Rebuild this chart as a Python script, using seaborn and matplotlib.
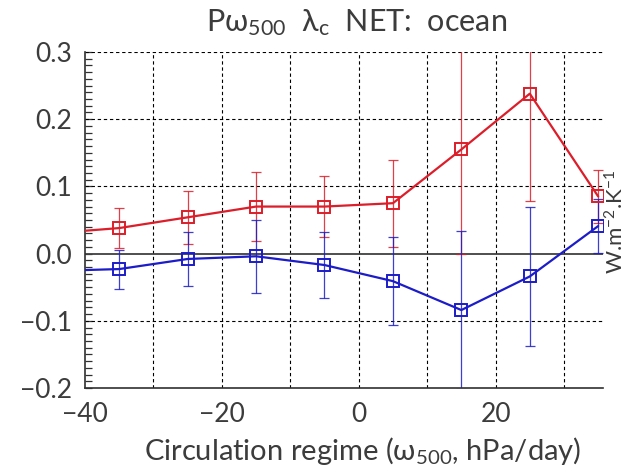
import numpy as np
import pandas as pd
import matplotlib
matplotlib.use("Agg")
import matplotlib.pyplot as plt
from matplotlib.ticker import MultipleLocator
import seaborn as sns

# regime bin centres (omega500, hPa/day)
regimes = [-45, -35, -25, -15, -5, 5, 15, 25, 35]
red_vals = [0.030, 0.038, 0.054, 0.070, 0.070, 0.075, 0.155, 0.238, 0.085]
red_err = [0.030, 0.030, 0.039, 0.051, 0.045, 0.065, 0.155, 0.160, 0.040]
blue_vals = [-0.026, -0.023, -0.008, -0.004, -0.017, -0.041, -0.084, -0.034, 0.041]
blue_err = [0.030, 0.029, 0.040, 0.054, 0.049, 0.065, 0.117, 0.104, 0.040]
x_ticks = [-40, -20, 0, 20]
y_ticks = [-0.2, -0.1, 0.0, 0.1, 0.2, 0.3]

sns.set_style("white")
plt.rcParams['font.family'] = ['Lato', 'DejaVu Sans']
plt.rcParams['font.weight'] = 'normal'
plt.rcParams['mathtext.fontset'] = 'custom'
plt.rcParams['mathtext.rm'] = 'Lato'
plt.rcParams['mathtext.it'] = 'Lato:italic'
TXT = '#3c3c3c'

df = pd.DataFrame({
    'regime': regimes * 2,
    'value': red_vals + blue_vals,
    'err': red_err + blue_err,
    'series': ['red'] * len(regimes) + ['blue'] * len(regimes),
})

fig = plt.figure(figsize=(6.28, 4.76), dpi=100)
ax = fig.add_axes([85 / 628, 1 - 388 / 476, (603 - 85) / 628, (388 - 52) / 476])

colors = {'red': '#dc1e2a', 'blue': '#1c1cc8'}

ax.set_xlim(-40, 35.7)
ax.set_ylim(-0.2, 0.3)
for gx in [-30, -20, -10, 0, 10, 20, 30]:
    ax.axvline(gx, color='black', lw=0.8, ls=(0, (3, 2.5)), zorder=1)
for gy in [-0.1, 0.1, 0.2, 0.3]:
    ax.axhline(gy, color='black', lw=0.8, ls=(0, (3, 2.5)), zorder=1)
ax.axhline(0.0, color='#404040', lw=1.3, zorder=1)

for name in ['red', 'blue']:
    sub = df[df['series'] == name]
    ax.errorbar(sub['regime'], sub['value'], yerr=sub['err'], fmt='none',
                ecolor=colors[name], elinewidth=0.9, capsize=3.5, capthick=0.9,
                zorder=2, alpha=0.85)
    sns.lineplot(data=sub, x='regime', y='value', ax=ax, color=colors[name],
                 lw=1.6, marker='s', markersize=8, markerfacecolor='none',
                 markeredgecolor=colors[name], markeredgewidth=1.4,
                 legend=False, zorder=3)

ax.spines['top'].set_visible(False)
ax.spines['right'].set_visible(False)
ax.spines['left'].set_color('#303030')
ax.spines['bottom'].set_color('#303030')
ax.spines['left'].set_linewidth(1.2)
ax.spines['bottom'].set_linewidth(1.2)

ax.set_xticks(x_ticks)
ax.set_xticklabels([f"{t:d}".replace('-', '\u2212') for t in x_ticks])
ax.set_yticks(y_ticks)
ax.set_yticklabels([f"{t:.1f}".replace('-', '\u2212') for t in y_ticks])
ax.yaxis.set_minor_locator(MultipleLocator(0.01))
ax.tick_params(axis='x', which='both', length=0, pad=10, labelsize=19, labelcolor=TXT)
ax.tick_params(axis='y', which='major', direction='in', length=5, width=0.9,
               pad=9, labelsize=19, labelcolor=TXT, left=True, color='#303030')
ax.tick_params(axis='y', which='minor', direction='in', length=5, width=0.9,
               left=True, color='#303030')
ax.set_xlabel('')
ax.set_ylabel('')

fig.text(357 / 628, 1 - 23 / 476, "Pω$_{500}$  λ$_\\mathrm{c}$  NET:  ocean",
         ha='center', va='center', fontsize=22, color=TXT)
fig.text(363 / 628, 1 - 451 / 476, "Circulation regime (ω$_{500}$, hPa/day)",
         ha='center', va='center', fontsize=21, color=TXT)
fig.text(616 / 628, 1 - 222 / 476, "W.m$^{-2}$.K$^{-1}$", rotation=90,
         ha='center', va='center', fontsize=16, color=TXT)

fig.savefig('out.png', dpi=100)
